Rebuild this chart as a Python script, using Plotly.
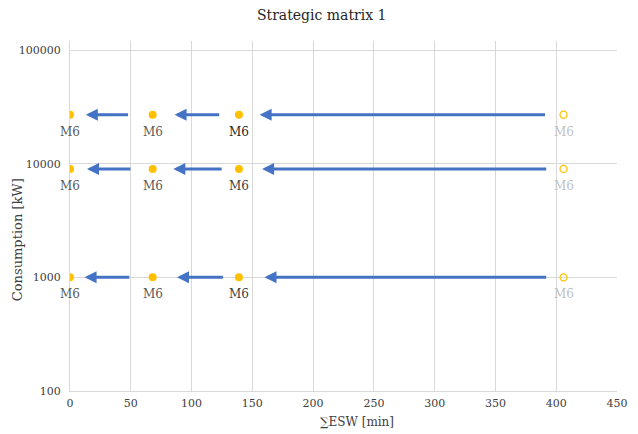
import plotly.graph_objects as go
import math

# ---- data ----
esw_values = [0, 68, 139, 406]           # ΣESW [min] of each state
consumption_rows = [27000, 9000, 1000]   # Consumption [kW]
point_labels = ["M6", "M6", "M6", "M6"]
# arrows per row: (start x, end x)
arrow_start = [[392, 124, 49], [393, 126, 51], [393, 127, 50]]
arrow_end = [[156, 86, 13], [158, 85, 14], [160, 88, 12]]
x_ticks = [0, 50, 100, 150, 200, 250, 300, 350, 400, 450]
y_ticks = [100, 1000, 10000, 100000]

FONT = "DejaVu Serif"
YELLOW = "#FFC000"
BLUE = "#4472C4"

fig = go.Figure()

for r, cons in enumerate(consumption_rows):
    # filled points
    fig.add_trace(go.Scatter(
        x=esw_values[:3], y=[cons] * 3, mode="markers",
        marker=dict(color=YELLOW, size=8),
        showlegend=False, hoverinfo="skip"))
    # hollow point (original state)
    fig.add_trace(go.Scatter(
        x=esw_values[3:], y=[cons], mode="markers",
        marker=dict(color=YELLOW, size=7, symbol="circle-open",
                    line=dict(color=YELLOW, width=1.3)),
        showlegend=False, hoverinfo="skip"))
    label_colors = ["#595959", "#595959", "#262626" if r == 0 else "#404040", "#BFBFBF"]
    for xv, lab, col in zip(esw_values, point_labels, label_colors):
        fig.add_annotation(
            x=xv, y=math.log10(cons), xref="x", yref="y", text=lab,
            showarrow=False, yshift=-17,
            font=dict(family=FONT, size=12, color=col))
    for xs, xe in zip(arrow_start[r], arrow_end[r]):
        fig.add_annotation(
            x=xe, y=math.log10(cons), ax=xs, ay=math.log10(cons),
            xref="x", yref="y", axref="x", ayref="y",
            showarrow=True, arrowhead=2, arrowsize=0.8, arrowwidth=3,
            arrowcolor=BLUE, text="")

# axis titles
fig.add_annotation(text="∑ESW [min]", xref="paper", yref="paper", x=0.525, y=0,
                   yshift=-31, xanchor="center", yanchor="middle", showarrow=False,
                   font=dict(family=FONT, size=12, color="#404040"))
fig.add_annotation(text="Consumption [kW]", xref="paper", yref="paper", x=0, y=0.431,
                   xshift=-53, xanchor="center", yanchor="middle", textangle=-90,
                   showarrow=False, font=dict(family=FONT, size=13, color="#404040"))

fig.update_layout(
    width=630, height=426,
    margin=dict(l=62, r=21, t=33, b=43),
    paper_bgcolor="white", plot_bgcolor="white",
    title=dict(text="Strategic matrix 1", x=0.498, xanchor="center", y=0.983,
               yanchor="middle", xref="paper", yref="container",
               font=dict(family=FONT, size=14, color="#262626")),
    font=dict(family=FONT, color="#404040"),
)
fig.update_layout(title_xref="container")
fig.update_xaxes(
    range=[0, 450], tickvals=x_ticks, ticktext=[str(v) for v in x_ticks],
    showgrid=True, gridcolor="#D9D9D9", gridwidth=1, automargin=False,
    showline=True, linecolor="#D9D9D9", linewidth=1, zeroline=False,
    ticks="", tickfont=dict(family=FONT, size=11, color="#404040"),
    ticklabelstandoff=2)
fig.update_yaxes(
    type="log", range=[2, 5.08], tickvals=y_ticks, ticktext=[str(v) for v in y_ticks],
    showgrid=True, gridcolor="#D9D9D9", gridwidth=1, automargin=False,
    showline=True, linecolor="#D9D9D9", linewidth=1, zeroline=False,
    ticks="", tickfont=dict(family=FONT, size=11, color="#404040"),
    ticklabelstandoff=6)

fig.write_html("out.html")
